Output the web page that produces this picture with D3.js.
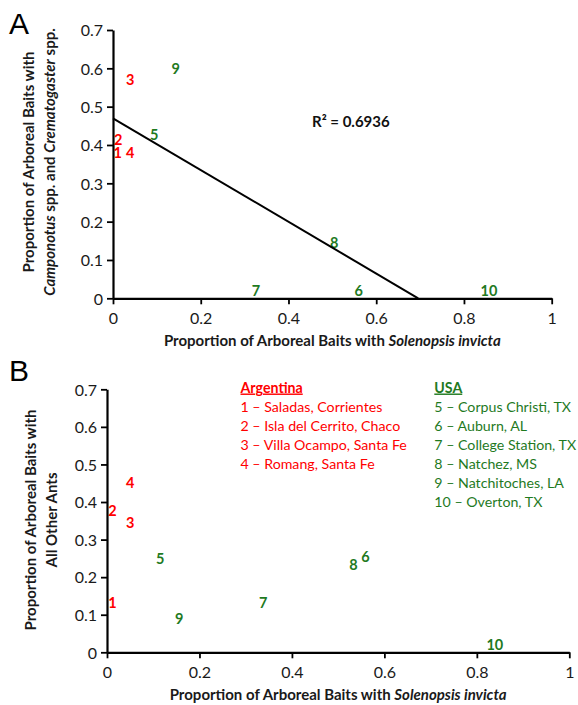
<!DOCTYPE html>
<html>
<head>
<meta charset="utf-8">
<script src="https://cdn.jsdelivr.net/npm/d3@7"></script>
<style>
  body { margin: 0; background: #fff; }
  svg text { font-family: Lato, "Open Sans", sans-serif; }
</style>
</head>
<body>
<div id="chart"></div>
<script>
// site numbers
var sites = ["1", "2", "3", "4", "5", "6", "7", "8", "9", "10"];
var country = ["AR", "AR", "AR", "AR", "US", "US", "US", "US", "US", "US"];

// Panel A: S. invicta vs Camponotus / Crematogaster
var aX = [0.011, 0.012, 0.039, 0.039, 0.094, 0.560, 0.326, 0.504, 0.143, 0.857];
var aY = [0.360, 0.392, 0.548, 0.360, 0.407, 0.000, 0.000, 0.125, 0.579, 0.000];
// linear trendline
var trendIntercept = 0.4696;
var trendSlope = -0.675;
var rSquared = "R² = 0.6936";

// Panel B: S. invicta vs all other ants
var bX = [0.012, 0.012, 0.050, 0.050, 0.115, 0.559, 0.338, 0.533, 0.156, 0.839];
var bY = [0.110, 0.355, 0.323, 0.430, 0.228, 0.233, 0.110, 0.212, 0.068, 0.000];

var xTicks = [0, 0.2, 0.4, 0.6, 0.8, 1];
var yTicks = [0, 0.1, 0.2, 0.3, 0.4, 0.5, 0.6, 0.7];

var argentinaSites = ["1 – Saladas, Corrientes", "2 – Isla del Cerrito, Chaco",
  "3 – Villa Ocampo, Santa Fe", "4 – Romang, Santa Fe"];
var usaSites = ["5 – Corpus Christi, TX", "6 – Auburn, AL", "7 – College Station, TX",
  "8 – Natchez, MS", "9 – Natchitoches, LA", "10 – Overton, TX"];

var colors = { AR: "#ff0000", US: "#1f7a1f" };

var svgWidth = 578;
var svgHeight = 705;

var svg = d3.select("#chart")
  .append("svg")
  .attr("width", svgWidth)
  .attr("height", svgHeight);

function fmt(d) {
  return d === 0 || d === 1 ? String(d) : d.toFixed(1);
}

function drawPanel(opts) {
  var x = d3.scaleLinear().domain([0, 1]).range([opts.left, opts.right]);
  var y = d3.scaleLinear().domain([0, 0.7]).range([opts.bottom, opts.top]);

  var g = svg.append("g");

  // axes
  var xAxis = g.append("g")
    .attr("transform", `translate(0, ${opts.bottom})`)
    .call(d3.axisBottom(x).tickValues(xTicks).tickFormat(fmt).tickSize(6).tickSizeOuter(0));
  var yAxis = g.append("g")
    .attr("transform", `translate(${opts.left}, 0)`)
    .call(d3.axisLeft(y).tickValues(yTicks).tickFormat(fmt).tickSize(6).tickSizeOuter(0));

  [xAxis, yAxis].forEach(function(ax) {
    ax.select(".domain").attr("stroke", "#000").attr("stroke-width", 2.2);
    ax.selectAll(".tick line").attr("stroke", "#000").attr("stroke-width", 1.8);
    ax.selectAll(".tick text")
      .attr("fill", "#1a1a1a")
      .style("font-size", "16px")
      .style("font-family", "Lato, sans-serif");
  });
  xAxis.selectAll(".tick text").attr("y", 9).attr("dy", "1.05em");
  yAxis.selectAll(".tick text").attr("x", -10).attr("dy", "0.36em");

  // x axis title
  var xt = g.append("text")
    .attr("x", (opts.left + opts.right) / 2)
    .attr("y", opts.xTitleY)
    .attr("text-anchor", "middle")
    .style("font-size", "15px")
    .style("font-weight", "bold")
    .attr("fill", "#1a1a1a");
  xt.append("tspan").text("Proportion of Arboreal Baits with ");
  xt.append("tspan").style("font-style", "italic").text("Solenopsis invicta");

  // y axis title (two lines)
  var yt = g.append("g")
    .attr("transform", `translate(${opts.yTitleX}, ${opts.yTitleMid}) rotate(-90)`);
  yt.append("text")
    .attr("x", 0).attr("y", 0)
    .attr("text-anchor", "middle")
    .style("font-size", "15px")
    .style("font-weight", "bold")
    .attr("fill", "#1a1a1a")
    .text("Proportion of Arboreal Baits with");
  var l2 = yt.append("text")
    .attr("x", 0).attr("y", 20.5)
    .attr("text-anchor", "middle")
    .style("font-size", "15px")
    .style("font-weight", "bold")
    .attr("fill", "#1a1a1a");
  opts.yLine2(l2);

  // panel letter
  g.append("text")
    .attr("x", 9)
    .attr("y", opts.letterY)
    .style("font-size", "30px")
    .style("font-family", "Liberation Sans, Arial, sans-serif")
    .attr("fill", "#000")
    .text(opts.letter);

  // site labels as markers
  g.selectAll(".site")
    .data(sites)
    .enter()
    .append("text")
    .attr("class", "site")
    .attr("x", (d, i) => x(opts.xs[i]))
    .attr("y", (d, i) => y(opts.ys[i]) - 8)
    .attr("dy", "0.36em")
    .attr("text-anchor", "middle")
    .style("font-size", "14.5px")
    .style("font-weight", "bold")
    .attr("fill", (d, i) => colors[country[i]])
    .text(d => d);

  return { x: x, y: y, g: g };
}

// ---- Panel A ----
var pA = drawPanel({
  left: 113, right: 551.7, top: 30, bottom: 298.3,
  xs: aX, ys: aY, letter: "A", letterY: 34,
  xTitleY: 346, yTitleX: 34, yTitleMid: 162,
  yLine2: function(t) {
    t.append("tspan").style("font-style", "italic").text("Camponotus");
    t.append("tspan").text(" spp. and ");
    t.append("tspan").style("font-style", "italic").text("Crematogaster");
    t.append("tspan").text(" spp.");
  }
});

// trendline, clipped at y = 0
var xEnd = -trendIntercept / trendSlope;
var trendLine = d3.line()
  .x(d => pA.x(d))
  .y(d => pA.y(trendIntercept + trendSlope * d));
pA.g.append("path")
  .datum([0, xEnd])
  .attr("d", trendLine)
  .attr("fill", "none")
  .attr("stroke", "#000")
  .attr("stroke-width", 2);

pA.g.append("text")
  .attr("x", 312)
  .attr("y", 126.5)
  .style("font-size", "15px")
  .style("font-weight", "bold")
  .attr("fill", "#111")
  .text(rSquared);

// ---- Panel B ----
var pB = drawPanel({
  left: 107, right: 569.3, top: 389.3, bottom: 652.3,
  xs: bX, ys: bY, letter: "B", letterY: 381,
  xTitleY: 700, yTitleX: 36, yTitleMid: 520,
  yLine2: function(t) {
    t.text("All Other Ants");
  }
});

// legend
function legendBlock(x0, title, items, color) {
  var lg = svg.append("g").attr("transform", `translate(${x0}, 0)`);
  lg.append("text")
    .attr("x", 0).attr("y", 392.5)
    .style("font-size", "14.2px")
    .style("font-weight", "bold")
    .style("text-decoration", "underline")
    .attr("fill", color)
    .text(title);
  lg.selectAll(".item")
    .data(items)
    .enter()
    .append("text")
    .attr("class", "item")
    .attr("x", 0)
    .attr("y", (d, i) => 411.5 + i * 19.1)
    .style("font-size", "14.2px")
    .attr("fill", color)
    .text(d => d);
}
legendBlock(240.5, "Argentina", argentinaSites, colors.AR);
legendBlock(434.3, "USA", usaSites, colors.US);
</script>
</body>
</html>
